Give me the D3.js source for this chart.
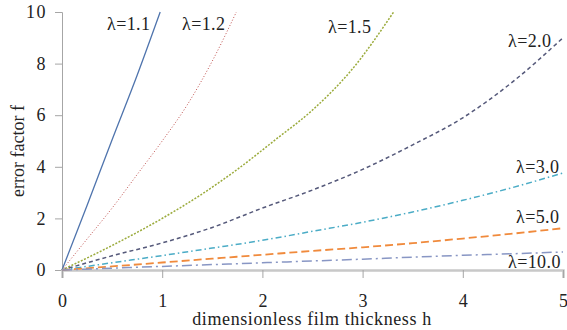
<!DOCTYPE html>
<html>
<head>
<meta charset="utf-8">
<script src="https://cdnjs.cloudflare.com/ajax/libs/d3/7.8.5/d3.min.js"></script>
<style>
  body { margin: 0; background: #fff; }
  #chart { width: 567px; height: 330px; }
</style>
</head>
<body>
<div id="chart"></div>
<script>
// values
const lambdas = ["1.1", "1.2", "1.5", "2.0", "3.0", "5.0", "10.0"];
const h11 = [0, 0.25, 0.5, 0.75, 0.98];
const f11 = [0, 2.5, 5.05, 7.55, 10];
const h12 = [0, 0.25, 0.5, 0.75, 1, 1.25, 1.5, 1.74];
const f12 = [0, 1.2, 2.4, 3.7, 5.0, 6.4, 8.1, 10];
const h15 = [0, 0.5, 1, 1.38, 1.75, 2.13, 2.5, 2.9, 3.31];
const f15 = [0, 0.95, 2.0, 2.9, 3.9, 5.05, 6.2, 7.8, 10];
const hAll = [0, 0.5, 1, 1.5, 2, 2.5, 3, 3.5, 4, 4.5, 5];
const f20 = [0, 0.55, 1.05, 1.65, 2.4, 3.1, 3.9, 4.85, 5.9, 7.3, 9.0];
const f30 = [0, 0.28, 0.56, 0.85, 1.15, 1.5, 1.85, 2.25, 2.7, 3.2, 3.76];
const f50 = [0, 0.14, 0.29, 0.44, 0.59, 0.74, 0.88, 1.04, 1.22, 1.41, 1.62];
const f100 = [0, 0.07, 0.14, 0.21, 0.28, 0.35, 0.42, 0.5, 0.57, 0.63, 0.7];
const xTicks = [0, 1, 2, 3, 4, 5];
const yTicks = [0, 2, 4, 6, 8, 10];

const serif = "'Liberation Serif', 'Times New Roman', serif";

const series = [
  {h: h11, f: f11, color: "#4f74ad", dash: null, w: 1.3},
  {h: h12, f: f12, color: "#c0504d", dash: "1,2", w: 1},
  {h: h15, f: f15, color: "#9bab3c", dash: "2,1.5", w: 1.5},
  {h: hAll, f: f20, color: "#55597a", dash: "4,3", w: 1.5},
  {h: hAll, f: f30, color: "#4bacc6", dash: "6,3,1.5,3", w: 1.5},
  {h: hAll, f: f50, color: "#f08a3c", dash: "8,4", w: 1.8},
  {h: hAll, f: f100, color: "#8896c4", dash: "10,4,2,4", w: 1.5}
];
const labelPos = [[107, 30], [182, 30], [328, 33], [508, 47], [516, 173], [516, 223], [508, 268]];

const margin = {top: 12, right: 4, bottom: 60, left: 62};
const W = 567, H = 330;
const width = W - margin.left - margin.right;
const height = H - margin.top - margin.bottom;

const svg = d3.select("#chart").append("svg")
  .attr("width", W).attr("height", H);
const g = svg.append("g")
  .attr("transform", `translate(${margin.left},${margin.top})`);

const x = d3.scaleLinear().domain([0, 5]).range([0, width]);
const y = d3.scaleLinear().domain([0, 10]).range([height, 0]);

// y axis
const yAxis = g.append("g")
  .call(d3.axisLeft(y).tickValues(yTicks).tickFormat(d3.format("d")).tickSize(7).tickPadding(8));
yAxis.select(".domain").attr("stroke", "#a6a6a6");
yAxis.selectAll(".tick line").attr("stroke", "#a6a6a6");
yAxis.selectAll("text").style("font-size", "18px").style("font-family", serif)
  .style("letter-spacing", "1.5px").attr("fill", "#222");

// x axis
const xAxis = g.append("g")
  .attr("transform", `translate(0,${height})`)
  .call(d3.axisBottom(x).tickValues(xTicks).tickFormat(d3.format("d")).tickSize(8).tickPadding(16));
xAxis.select(".domain").attr("stroke", "#c8c8c8").attr("stroke-width", 2.5);
xAxis.selectAll(".tick line").attr("stroke", "#a6a6a6");
xAxis.selectAll("text").style("font-size", "18px").style("font-family", serif).attr("fill", "#222");

const line = d3.line()
  .x(d => x(d[0]))
  .y(d => y(d[1]))
  .curve(d3.curveMonotoneX);

series.forEach(s => {
  g.append("path")
    .datum(s.h.map((h, i) => [h, s.f[i]]))
    .attr("fill", "none")
    .attr("stroke", s.color)
    .attr("stroke-width", s.w)
    .attr("stroke-dasharray", s.dash)
    .attr("d", line);
});

svg.selectAll(".lab")
  .data(lambdas)
  .enter()
  .append("text")
  .attr("class", "lab")
  .attr("x", (d, i) => labelPos[i][0])
  .attr("y", (d, i) => labelPos[i][1])
  .style("font-family", serif)
  .style("font-size", "18px")
  .style("letter-spacing", "0.4px")
  .attr("fill", "#222")
  .text(d => "λ=" + d);

svg.append("text")
  .attr("x", 312)
  .attr("y", 325)
  .attr("text-anchor", "middle")
  .style("font-family", serif)
  .style("font-size", "18px")
  .style("letter-spacing", "0.6px")
  .attr("fill", "#222")
  .text("dimensionless film thickness  h");

svg.append("text")
  .attr("transform", `translate(24,151) rotate(-90)`)
  .attr("text-anchor", "middle")
  .style("font-family", serif)
  .style("font-size", "18px")
  .attr("fill", "#222")
  .text("error factor  f");
</script>
</body>
</html>
